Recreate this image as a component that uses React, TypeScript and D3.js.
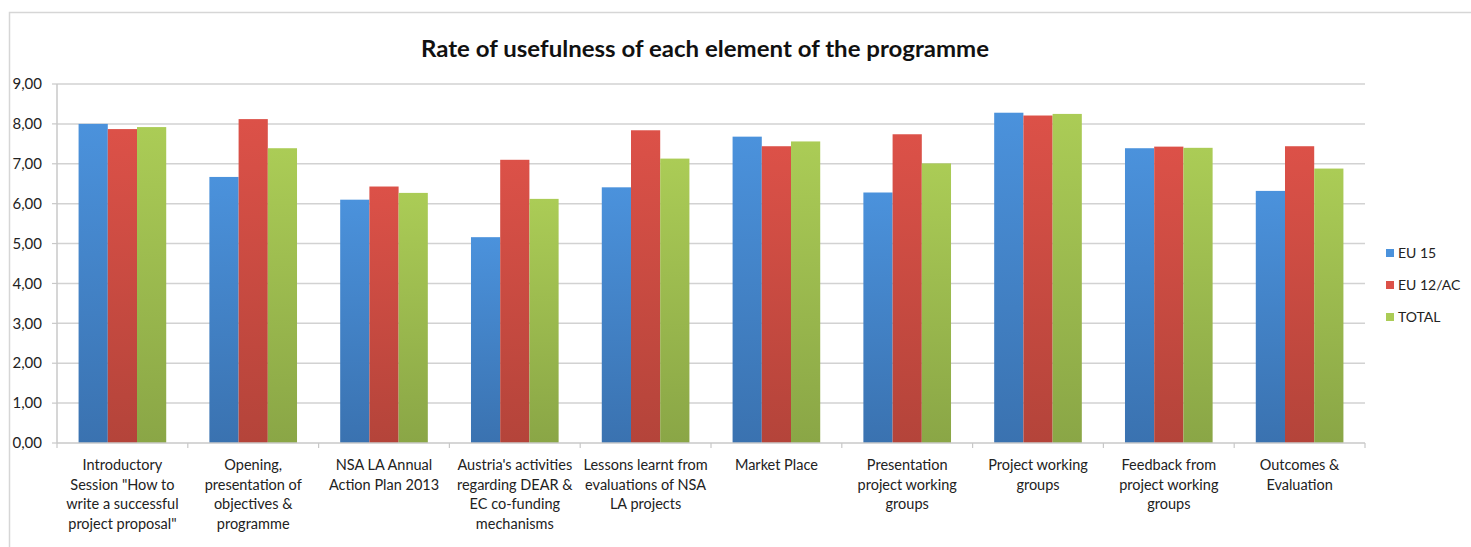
import React from "react";
import * as d3 from "d3";

const categories: string[][] = [
  ["Introductory", "Session \"How to", "write a successful", "project proposal\""],
  ["Opening,", "presentation of", "objectives &", "programme"],
  ["NSA LA Annual", "Action Plan 2013"],
  ["Austria's activities", "regarding DEAR &", "EC co-funding", "mechanisms"],
  ["Lessons learnt from", "evaluations of NSA", "LA projects"],
  ["Market Place"],
  ["Presentation", "project working", "groups"],
  ["Project working", "groups"],
  ["Feedback from", "project working", "groups"],
  ["Outcomes &", "Evaluation"],
];

const seriesNames = ["EU 15", "EU 12/AC", "TOTAL"];
const eu15 = [8.0, 6.67, 6.1, 5.16, 6.41, 7.68, 6.28, 8.28, 7.39, 6.32];
const eu12 = [7.87, 8.12, 6.43, 7.1, 7.84, 7.44, 7.74, 8.21, 7.43, 7.44];
const total = [7.92, 7.39, 6.27, 6.12, 7.13, 7.56, 7.01, 8.25, 7.4, 6.88];
const yTicks = [0, 1, 2, 3, 4, 5, 6, 7, 8, 9];

const seriesValues = [eu15, eu12, total];
const seriesColors = [
  ["#4b92dc", "#3a72b0"],
  ["#dc5148", "#b4443a"],
  ["#abcc56", "#8aa646"],
];

const W = 1471;
const H = 547;
const margin = { left: 57, right: 106, top: 84, bottom: 104 };
const font = "Lato, 'Open Sans', 'Noto Sans', sans-serif";

export default function App() {
  const x0 = d3
    .scaleBand<number>()
    .domain(d3.range(categories.length))
    .range([margin.left, W - margin.right])
    .paddingInner(0.33)
    .paddingOuter(0.165);
  const x1 = d3
    .scaleBand<number>()
    .domain(d3.range(seriesNames.length))
    .range([0, x0.bandwidth()]);
  const y = d3
    .scaleLinear()
    .domain([0, 9])
    .range([H - margin.bottom, margin.top]);
  const step = x0.step();
  const fmt = (v: number) => d3.format(".2f")(v).replace(".", ",");

  return (
    <svg
      width={W}
      height={H}
      style={{ position: "absolute", left: 0, top: 0, background: "#fff" }}
      fontFamily={font}
    >
      <defs>
        {seriesColors.map((c, i) => (
          <linearGradient key={i} id={`grad${i}`} x1="0" y1="0" x2="0" y2="1">
            <stop offset="0%" stopColor={c[0]} />
            <stop offset="100%" stopColor={c[1]} />
          </linearGradient>
        ))}
      </defs>

      {/* chart frame */}
      <path d={`M9.5,${H} V12.5 H${W}`} fill="none" stroke="#d6d6d6" strokeWidth={1.5} />

      <text
        x={705}
        y={57}
        textAnchor="middle"
        fontSize={23}
        fontWeight="bold"
        fill="#111"
        textLength={568}
        lengthAdjust="spacingAndGlyphs"
      >
        Rate of usefulness of each element of the programme
      </text>

      {/* gridlines and y-axis labels */}
      {yTicks.map((t) => (
        <g key={t}>
          {t > 0 && (
            <line
              x1={margin.left}
              x2={W - margin.right}
              y1={y(t)}
              y2={y(t)}
              stroke="#d2d2d2"
              strokeWidth={1.5}
            />
          )}
          <line x1={margin.left - 5} x2={margin.left} y1={y(t)} y2={y(t)} stroke="#c8c8c8" strokeWidth={1.2} />
          <text x={42} y={y(t)} dy="0.35em" textAnchor="end" fontSize={15} fill="#222">
            {fmt(t)}
          </text>
        </g>
      ))}

      {/* bars */}
      {categories.map((_, ci) => (
        <g key={ci} transform={`translate(${x0(ci)},0)`}>
          {seriesValues.map((vals, si) => (
            <rect
              key={si}
              x={x1(si)}
              y={y(vals[ci])}
              width={x1.bandwidth()}
              height={y(0) - y(vals[ci])}
              fill={`url(#grad${si})`}
            />
          ))}
        </g>
      ))}

      {/* axes */}
      <line x1={margin.left} x2={margin.left} y1={margin.top} y2={y(0)} stroke="#c8c8c8" strokeWidth={1.5} />
      <line x1={margin.left} x2={W - margin.right} y1={y(0)} y2={y(0)} stroke="#c8c8c8" strokeWidth={1.5} />
      {d3.range(categories.length + 1).map((i) => (
        <line
          key={i}
          x1={margin.left + i * step}
          x2={margin.left + i * step}
          y1={y(0)}
          y2={y(0) + 5}
          stroke="#c8c8c8"
          strokeWidth={1.2}
        />
      ))}

      {/* category labels */}
      {categories.map((lines, ci) => (
        <text
          key={ci}
          x={(x0(ci) as number) + x0.bandwidth() / 2}
          y={470}
          textAnchor="middle"
          fontSize={14.5}
          fill="#222"
        >
          {lines.map((l, li) => (
            <tspan key={li} x={(x0(ci) as number) + x0.bandwidth() / 2} dy={li === 0 ? 0 : 19.5}>
              {l}
            </tspan>
          ))}
        </text>
      ))}

      {/* legend */}
      {seriesNames.map((name, i) => (
        <g key={name} transform={`translate(1386,${253 + i * 32})`}>
          <rect x={0} y={-4} width={8} height={8} fill={seriesColors[i][0]} />
          <text x={12} y={0} dy="0.35em" fontSize={14} fill="#222">
            {name}
          </text>
        </g>
      ))}
    </svg>
  );
}
